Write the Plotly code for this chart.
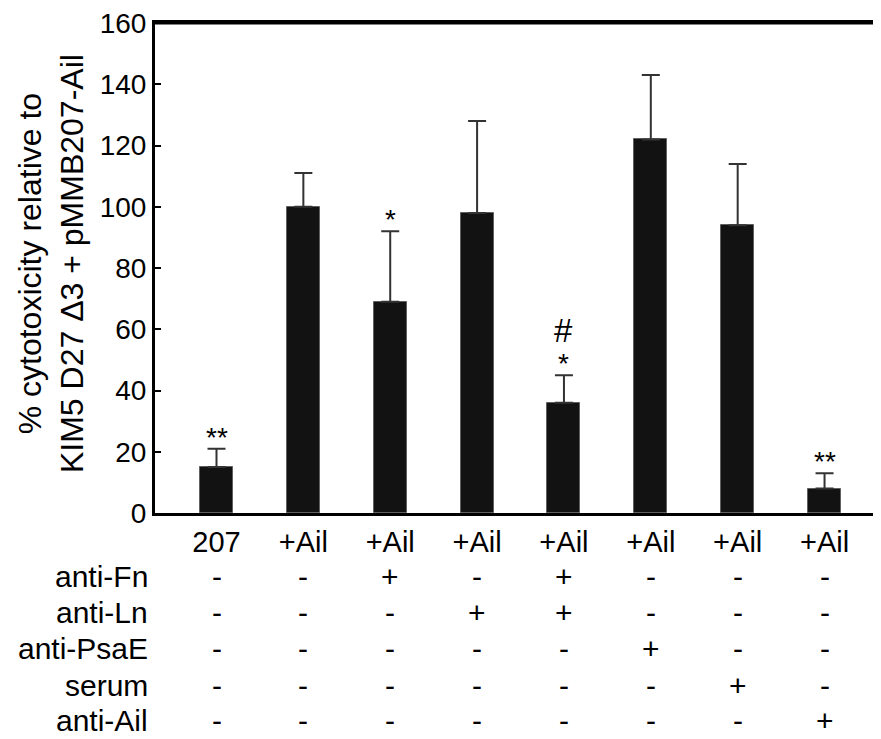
import plotly.graph_objects as go

groups = ["207", "+Ail", "+Ail", "+Ail", "+Ail", "+Ail", "+Ail", "+Ail"]
values = [15, 100, 69, 98, 36, 122, 94, 8]
err_up = [6, 11, 23, 30, 9, 21, 20, 5]
sig_marks = ["**", "", "*", "", "*", "", "", "**"]
hash_marks = ["", "", "", "", "#", "", "", ""]

row_names = ["anti-Fn", "anti-Ln", "anti-PsaE", "serum", "anti-Ail"]
row_signs = [
    ["-", "-", "+", "-", "+", "-", "-", "-"],
    ["-", "-", "-", "+", "+", "-", "-", "-"],
    ["-", "-", "-", "-", "-", "+", "-", "-"],
    ["-", "-", "-", "-", "-", "-", "+", "-"],
    ["-", "-", "-", "-", "-", "-", "-", "+"],
]

FONT = "Liberation Sans, Arial, sans-serif"
OFF = 8  # page body margin
W, H = 881 - OFF, 739 - OFF
L, R, T, B = 155 - OFF, 0, 21 - OFF, 739 - 513
plot_h = H - T - B
plot_w = W - L - R

def py(ypix):
    return (513 - ypix) / plot_h

xs = list(range(len(values)))

fig = go.Figure()
fig.add_trace(go.Bar(
    x=xs, y=values, width=0.38,
    marker=dict(color="#121212", line=dict(color="#606060", width=1)),
    error_y=dict(type="data", symmetric=False, array=err_up,
                 arrayminus=[0] * len(values),
                 color="#333333", thickness=2, width=9),
))

ann = []
for i, (s, v, e) in enumerate(zip(sig_marks, values, err_up)):
    if s:
        ann.append(dict(x=i, y=v + e, xref="x", yref="y", text=s,
                        showarrow=False, yanchor="bottom", yshift=-6,
                        font=dict(family=FONT, size=28, color="black")))
for i, (s, v, e) in enumerate(zip(hash_marks, values, err_up)):
    if s:
        ann.append(dict(x=i, y=v + e, xref="x", yref="y", text=s,
                        showarrow=False, yanchor="bottom", yshift=24,
                        font=dict(family=FONT, size=33, color="black")))

row_px = [577, 613, 649, 686, 721]
for r, (name, signs) in enumerate(zip(row_names, row_signs)):
    yp = py(row_px[r])
    ann.append(dict(x=(150 - 155) / plot_w, y=yp, xref="paper", yref="paper",
                    text=name, showarrow=False, xanchor="right", yanchor="middle",
                    font=dict(family=FONT, size=30, color="black")))
    for i, s in enumerate(signs):
        ann.append(dict(x=i, y=yp, xref="x", yref="paper", text=s,
                        showarrow=False, xanchor="center", yanchor="middle",
                        font=dict(family=FONT, size=30, color="black")))

ann.append(dict(x=(51 - 155) / plot_w, y=py(263), xref="paper", yref="paper",
                text="% cytotoxicity relative to<br>KIM5 D27 \u03943 + pMMB207-Ail",
                textangle=-90, showarrow=False, xanchor="center", yanchor="middle",
                font=dict(family=FONT, size=32, color="black")))

fig.update_layout(
    width=W, height=H,
    margin=dict(l=L, r=R, t=T, b=B, pad=0),
    plot_bgcolor="white", paper_bgcolor="white",
    showlegend=False,
    annotations=ann,
    font=dict(family=FONT, size=28, color="black"),
    bargap=0,
    shapes=[dict(type="line", xref="paper", yref="paper", x0=0, x1=1.01,
                 y0=1, y1=1, line=dict(color="black", width=3))],
)
fig.update_xaxes(range=[-0.708, 7.65], tickvals=xs, ticktext=groups,
                 showline=True, linecolor="black", linewidth=3, mirror=True,
                 ticks="", showgrid=False, zeroline=False,
                 ticklabelstandoff=1, ticklabeloverflow="allow",
                 tickfont=dict(family=FONT, size=29, color="black"))
fig.update_yaxes(range=[0, 160], tickvals=list(range(0, 161, 20)),
                 showline=True, linecolor="black", linewidth=3,
                 ticks="inside", ticklen=6, tickwidth=2, tickcolor="black",
                 showgrid=False, zeroline=False, ticklabeloverflow="allow",
                 tickfont=dict(family=FONT, size=28, color="black"))

fig.write_html("out.html")
